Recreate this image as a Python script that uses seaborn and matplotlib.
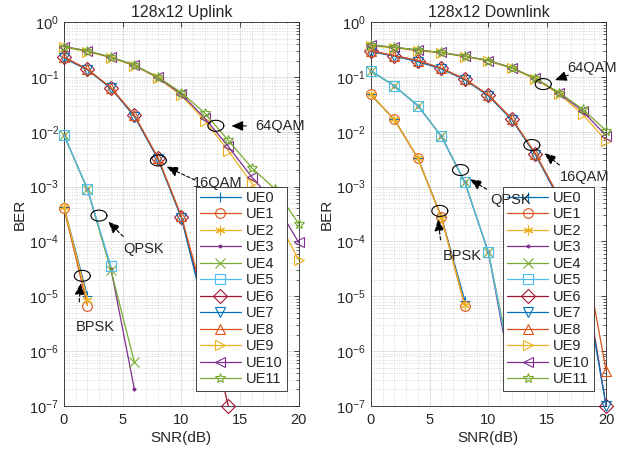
import numpy as np
import pandas as pd
import matplotlib
matplotlib.use("Agg")
import matplotlib.pyplot as plt
from matplotlib.patches import FancyArrowPatch
from matplotlib.ticker import FixedLocator, MultipleLocator, NullFormatter
import seaborn as sns

nan = np.nan

# SNR grid (dB)
snr = [0, 2, 4, 6, 8, 10, 12, 14, 16, 18, 20]
ue_names = [f"UE{i}" for i in range(12)]

# ---- Uplink BER, three UEs per modulation ----
ul_bpsk = [  # UE0, UE1, UE2
    [4.3e-4, 1.0e-5, nan, nan, nan, nan, nan, nan, nan, nan, nan],
    [4.0e-4, 6.7e-6, nan, nan, nan, nan, nan, nan, nan, nan, nan],
    [4.3e-4, 8.7e-6, nan, nan, nan, nan, nan, nan, nan, nan, nan],
]
ul_qpsk = [  # UE3, UE4, UE5
    [8.7e-3, 9.0e-4, 3.2e-5, 2.0e-7, nan, nan, nan, nan, nan, nan, nan],
    [8.7e-3, 9.0e-4, 3.0e-5, 6.3e-7, nan, nan, nan, nan, nan, nan, nan],
    [8.8e-3, 9.1e-4, 3.5e-5, nan, nan, nan, nan, nan, nan, nan, nan],
]
ul_16qam = [  # UE6, UE7, UE8
    [0.23, 0.138, 0.063, 0.020, 3.3e-3, 2.8e-4, 6.0e-6, 1.0e-7, nan, nan, nan],
    [0.22, 0.135, 0.062, 0.019, 3.2e-3, 2.7e-4, 5.0e-6, nan, nan, nan, nan],
    [0.23, 0.138, 0.064, 0.020, 3.4e-3, 2.9e-4, 8.0e-6, nan, nan, nan, nan],
]
ul_64qam = [  # UE9, UE10, UE11
    [0.35, 0.29, 0.225, 0.160, 0.096, 0.046, 0.016, 4.5e-3, 1.15e-3, 3.0e-4, 4.6e-5],
    [0.36, 0.30, 0.230, 0.165, 0.098, 0.049, 0.0177, 5.4e-3, 1.5e-3, 5.0e-4, 9.6e-5],
    [0.355, 0.30, 0.230, 0.165, 0.100, 0.052, 0.022, 7.0e-3, 2.2e-3, 9.0e-4, 2.1e-4],
]

# ---- Downlink BER ----
dl_bpsk = [
    [0.048, 0.0168, 3.3e-3, 2.8e-4, 8.3e-6, nan, nan, nan, nan, nan, nan],
    [0.048, 0.0168, 3.3e-3, 2.8e-4, 6.6e-6, nan, nan, nan, nan, nan, nan],
    [0.048, 0.0168, 3.3e-3, 2.7e-4, 6.9e-6, nan, nan, nan, nan, nan, nan],
]
dl_qpsk = [
    [0.13, 0.069, 0.030, 8.3e-3, 1.2e-3, 6.3e-5, 3.0e-7, nan, nan, nan, nan],
    [0.13, 0.069, 0.030, 8.3e-3, 1.2e-3, 6.3e-5, 5.0e-7, nan, nan, nan, nan],
    [0.13, 0.069, 0.030, 8.3e-3, 1.2e-3, 6.3e-5, 4.0e-7, nan, nan, nan, nan],
]
dl_16qam = [
    [0.30, 0.245, 0.20, 0.143, 0.091, 0.046, 0.017, 3.9e-3, 6.0e-4, 4.0e-5, 1.0e-7],
    [0.29, 0.240, 0.19, 0.140, 0.089, 0.045, 0.0165, 3.8e-3, 6.0e-4, 3.0e-5, 1.0e-7],
    [0.30, 0.245, 0.20, 0.145, 0.092, 0.047, 0.0172, 4.0e-3, 6.5e-4, 1.0e-4, 4.4e-7],
]
dl_64qam = [
    [0.37, 0.34, 0.30, 0.275, 0.235, 0.195, 0.143, 0.091, 0.049, 0.021, 6.9e-3],
    [0.38, 0.35, 0.31, 0.280, 0.240, 0.200, 0.147, 0.094, 0.051, 0.024, 8.5e-3],
    [0.38, 0.35, 0.31, 0.280, 0.240, 0.200, 0.147, 0.094, 0.052, 0.026, 0.0105],
]

# MATLAB default colour order and one marker per UE
colors = ["#0072BD", "#D95319", "#EDB120", "#7E2F8E", "#77AC30", "#4DBEEE",
          "#A2142F", "#0072BD", "#D95319", "#EDB120", "#7E2F8E", "#77AC30"]
markers = ["+", "o", (6, 2, 0), ".", "x", "s", "D", "v", "^", ">", "<", "*"]

# Annotations: label, ellipse centre, arrow tip, arrow tail, text anchor, dashed?
ul_notes = [
    ("64QAM", (12.94, 0.0129), (14.27, 0.0128), (15.55, 0.0128), (16.26, 0.0129), False),
    ("16QAM", (8.04, 3.0e-3), (8.74, 2.31e-3), (11.15, 1.32e-3), (10.98, 1.17e-3), True),
    ("QPSK", (2.98, 2.96e-4), (3.77, 2.30e-4), (5.05, 1.23e-4), (5.05, 7.24e-5), True),
    ("BPSK", (1.56, 2.36e-5), (1.42, 1.74e-5), (1.30, 7.9e-6), (1.02, 2.75e-6), True),
]
dl_notes = [
    ("64QAM", (14.66, 0.0743), (15.66, 0.0879), (16.79, 0.108), (16.66, 0.143), False),
    ("16QAM", (13.69, 5.75e-3), (14.76, 4.06e-3), (16.03, 2.48e-3), (16.09, 1.52e-3), True),
    ("QPSK", (7.63, 2.01e-3), (8.43, 1.36e-3), (9.85, 8.97e-4), (10.13, 5.73e-4), True),
    ("BPSK", (5.87, 3.61e-4), (5.72, 2.55e-4), (5.93, 1.07e-4), (6.10, 5.47e-5), True),
]

# y-axis decades shown
decades = np.arange(-7, 1)

sns.set_theme(style="white")
plt.rcParams["font.family"] = ["Liberation Sans", "DejaVu Sans"]
plt.rcParams["mathtext.fontset"] = "custom"
plt.rcParams["mathtext.rm"] = "Liberation Sans"
plt.rcParams["axes.edgecolor"] = "#262626"
plt.rcParams["text.color"] = "#262626"

fig = plt.figure(figsize=(6.21, 4.53), dpi=100)
ax_ul = fig.add_axes([0.103, 0.104, 0.378, 0.847])
ax_dl = fig.add_axes([0.597, 0.104, 0.379, 0.847])


def draw_panel(ax, groups, notes, title):
    curves = [row for g in groups for row in g]
    for i, vals in enumerate(curves):
        df = pd.DataFrame({"snr": snr, "ber": vals}).dropna()
        face = colors[i] if markers[i] == "." else "none"
        sns.lineplot(data=df, x="snr", y="ber", ax=ax, color=colors[i],
                     marker=markers[i], markersize=7 if markers[i] != "." else 4,
                     markerfacecolor=face, markeredgecolor=colors[i],
                     markeredgewidth=0.8, linewidth=0.9, label=ue_names[i],
                     clip_on=False, zorder=3)

    ax.set_yscale("log")
    ax.set_xlim(0, 20)
    ax.set_ylim(1e-7, 1)
    ax.xaxis.set_major_locator(MultipleLocator(5))
    ax.xaxis.set_minor_locator(MultipleLocator(1))
    ax.yaxis.set_major_locator(FixedLocator(10.0 ** decades))
    minor = [m * 10.0 ** d for d in decades[:-1] for m in range(2, 10)]
    ax.yaxis.set_minor_locator(FixedLocator(minor))
    ax.yaxis.set_minor_formatter(NullFormatter())
    ax.set_yticklabels([rf"$\mathdefault{{10^{{{d}}}}}$" for d in decades])
    ax.grid(True, which="major", color="#dcdcdc", linewidth=0.6, linestyle="-")
    ax.grid(True, which="minor", color="#c8c8c8", linewidth=0.6, linestyle=(0, (1, 2)))
    ax.set_axisbelow(True)
    ax.tick_params(which="both", direction="in", top=True, right=True,
                   colors="#262626", labelsize=10.5)
    ax.tick_params(which="major", length=3.5, width=0.6)
    ax.tick_params(which="minor", length=2, width=0.5)
    ax.tick_params(axis="x", which="minor", length=0)
    ax.tick_params(axis="x", which="major", pad=5)
    for sp in ax.spines.values():
        sp.set_linewidth(0.6)
    ax.set_title(title, fontsize=11.5, pad=4)
    ax.set_xlabel("SNR(dB)", fontsize=11, labelpad=3)
    ax.set_ylabel("BER", fontsize=11, labelpad=2)

    t = np.linspace(0, 2 * np.pi, 100)
    for label, centre, tip, tail, txt, dashed in notes:
        cx, cy = centre
        ax.plot(cx + 0.68 * np.cos(t), 10 ** (np.log10(cy) + 0.10 * np.sin(t)),
                color="black", linewidth=0.8, zorder=4)
        arrow = FancyArrowPatch(tail, tip, transform=ax.transData,
                                arrowstyle="-|>,head_length=0.7,head_width=0.3",
                                mutation_scale=10, color="black", lw=0.8,
                                linestyle=(0, (3, 2)) if dashed else "-",
                                shrinkA=0, shrinkB=0, zorder=5)
        ax.add_patch(arrow)
        ax.text(txt[0], txt[1], label, ha="left", va="center", fontsize=10.5,
                color="#262626", zorder=20)

    handles, labels = ax.get_legend_handles_labels()
    leg = ax.legend(handles, labels, loc="lower right", bbox_to_anchor=(0.95, 0.04),
                    borderaxespad=0, fontsize=10.5, handlelength=2.8,
                    handletextpad=0.35, labelspacing=0.17, borderpad=0.3,
                    frameon=True, fancybox=False, framealpha=1, edgecolor="#262626")
    leg.get_frame().set_linewidth(0.6)
    leg.set_zorder(10)


draw_panel(ax_ul, [ul_bpsk, ul_qpsk, ul_16qam, ul_64qam], ul_notes, "128x12 Uplink")
draw_panel(ax_dl, [dl_bpsk, dl_qpsk, dl_16qam, dl_64qam], dl_notes, "128x12 Downlink")

fig.savefig("out.png", dpi=100)
